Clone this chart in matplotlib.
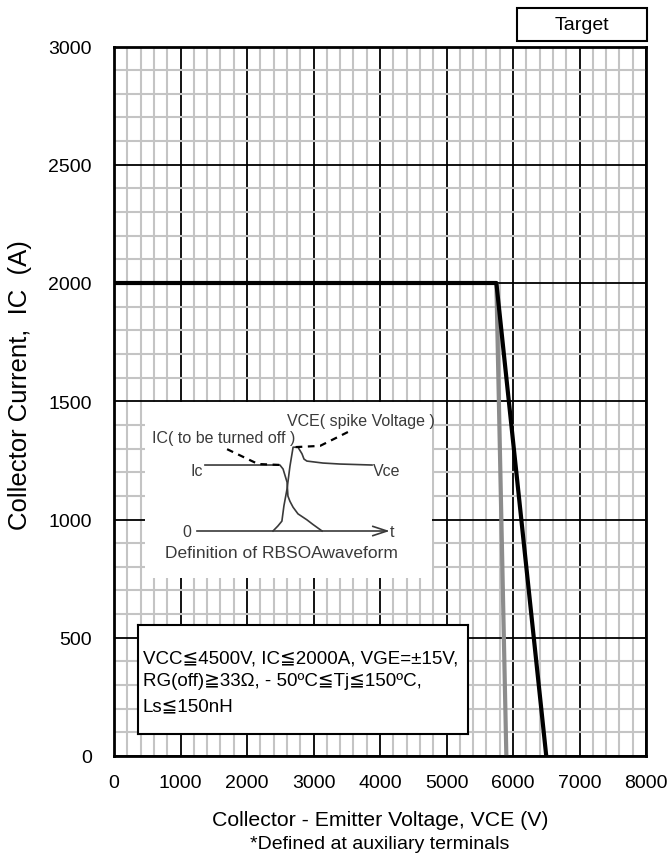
import matplotlib
matplotlib.use("Agg")
import matplotlib.pyplot as plt
from matplotlib.patches import Rectangle

# ---------------- data ----------------
# SOA boundary curves (VCE [V], IC [A])
black_v = [0, 5750, 6500]
black_i = [2000, 2000, 0]
gray_v = [5750, 5900]
gray_i = [2000, 0]

x_major = list(range(0, 8001, 1000))
y_major = list(range(0, 3001, 500))
x_minor = list(range(0, 8001, 200))
y_minor = list(range(0, 3001, 100))

# inset waveform (arbitrary time units, normalised amplitude)
ic_t = [2.09, 4.70, 4.81, 4.95, 4.98, 5.05, 5.16, 5.33, 5.64, 5.85, 6.17]
ic_v = [1.0, 1.0, 0.94, 0.74, 0.53, 0.45, 0.36, 0.26, 0.17, 0.10, 0.0]
vce_t = [4.46, 4.63, 4.77, 4.84, 4.95, 5.05, 5.16, 5.33, 5.47, 5.54, 5.64, 6.20, 6.79, 7.91]
vce_v = [0.0, 0.076, 0.15, 0.38, 0.64, 0.98, 1.27, 1.27, 1.17, 1.09, 1.06, 1.03, 1.015, 1.0]
axis_t = [1.81, 8.43]
axis_v = [0.0, 0.0]
arrow_t = [7.94, 8.43, 7.94]
arrow_v = [0.07, 0.0, -0.07]
lead_ic_t = [2.86, 3.94, 4.77]
lead_ic_v = [1.24, 1.015, 1.0]
lead_vce_t = [7.07, 6.10, 5.16]
lead_vce_v = [1.50, 1.29, 1.27]

spec_lines = ["VCC≦4500V, IC≦2000A, VGE=±15V,",
              "RG(off)≧33Ω, - 50ºC≦Tj≦150ºC,",
              "Ls≦150nH"]

# ---------------- fonts ----------------
SANS = ["Liberation Sans", "DejaVu Sans"]
plt.rcParams["font.family"] = SANS

W, H = 669, 854
fig = plt.figure(figsize=(W / 100, H / 100), dpi=100)


def fbox(l, t, r, b):
    return [l / W, 1 - b / H, (r - l) / W, (b - t) / H]


ax = fig.add_axes(fbox(114, 47.5, 646, 757))
ax.set_xlim(0, 8000)
ax.set_ylim(0, 3000)
ax.set_xticks(x_major)
ax.set_yticks(y_major)
ax.set_xticks(x_minor, minor=True)
ax.set_yticks(y_minor, minor=True)
ax.grid(which="minor", color="#c4c4c4", lw=1.5, zorder=0)
ax.grid(which="major", color="black", lw=1.3, zorder=0.5)
ax.set_axisbelow(True)
ax.tick_params(which="both", length=0)
ax.tick_params(axis="y", pad=16, labelsize=14)
ax.tick_params(axis="x", pad=13, labelsize=14)
for s in ax.spines.values():
    s.set_linewidth(2)
    s.set_zorder(5)

ax.plot(gray_v, gray_i, color="#8c8c8c", lw=3, zorder=3, solid_capstyle="butt")
ax.plot(black_v, black_i, color="black", lw=3, zorder=4, solid_capstyle="butt")

fig.text(380 / W, 1 - 821 / H, "Collector - Emitter Voltage, VCE (V)",
         ha="center", va="center", fontsize=15.3)
fig.text(380 / W, 1 - 845 / H, "*Defined at auxiliary terminals",
         ha="center", va="center", fontsize=14)
fig.text(20 / W, 1 - 385 / H, "Collector Current,  IC  (A)", rotation=90,
         ha="center", va="center", fontsize=18.5)

# Target box
fig.add_artist(Rectangle((517 / W, 1 - 42 / H), 130 / W, 33 / H, transform=fig.transFigure,
                         facecolor="white", edgecolor="black", lw=1.5))
fig.text(582 / W, 1 - 25.5 / H, "Target", ha="center", va="center", fontsize=14)

# inset waveform
ins = fig.add_axes(fbox(145, 403, 432, 579), zorder=6)
ins.set_facecolor("white")
ins.set_xlim(0, 10)
ins.set_ylim(-0.712, 1.955)
ins.set_xticks([])
ins.set_yticks([])
for s in ins.spines.values():
    s.set_visible(False)
wc = "#3a3a3a"
ins.plot(ic_t, ic_v, color=wc, lw=1.2)
ins.plot(vce_t, vce_v, color=wc, lw=1.2)
ins.plot(axis_t, axis_v, color=wc, lw=1.2)
ins.plot(arrow_t, arrow_v, color=wc, lw=1.2)
ins.plot(lead_ic_t, lead_ic_v, color="black", lw=1.6, ls=(0, (3, 2.5)))
ins.plot(lead_vce_t, lead_vce_v, color="black", lw=1.6, ls=(0, (3, 2.5)))
tk = dict(color=wc, fontsize=11.5, va="center")
ins.text(0.24, 1.41, "IC( to be turned off )", ha="left", **tk)
ins.text(4.95, 1.68, "VCE( spike Voltage )", ha="left", **tk)
ins.text(2.02, 0.92, "Ic", ha="right", **tk)
ins.text(7.94, 0.92, "Vce", ha="left", **tk)
ins.text(1.46, 0.0, "0", ha="center", **tk)
ins.text(8.54, 0.0, "t", ha="left", **tk)
ins.text(0.70, -0.32, "Definition of RBSOAwaveform", ha="left",
         color=wc, fontsize=12.5, va="center")

# spec box
sb = fig.add_axes(fbox(138, 626, 468, 735), zorder=6)
sb.set_facecolor("white")
sb.set_xticks([])
sb.set_yticks([])
for s in sb.spines.values():
    s.set_linewidth(1.5)
sb.set_xlim(138, 468)
sb.set_ylim(735, 626)
for k, line in enumerate(spec_lines):
    sb.text(143, [659, 682, 707][k], line, ha="left", va="center", fontsize=13.5)

fig.savefig("out.png", dpi=100)
